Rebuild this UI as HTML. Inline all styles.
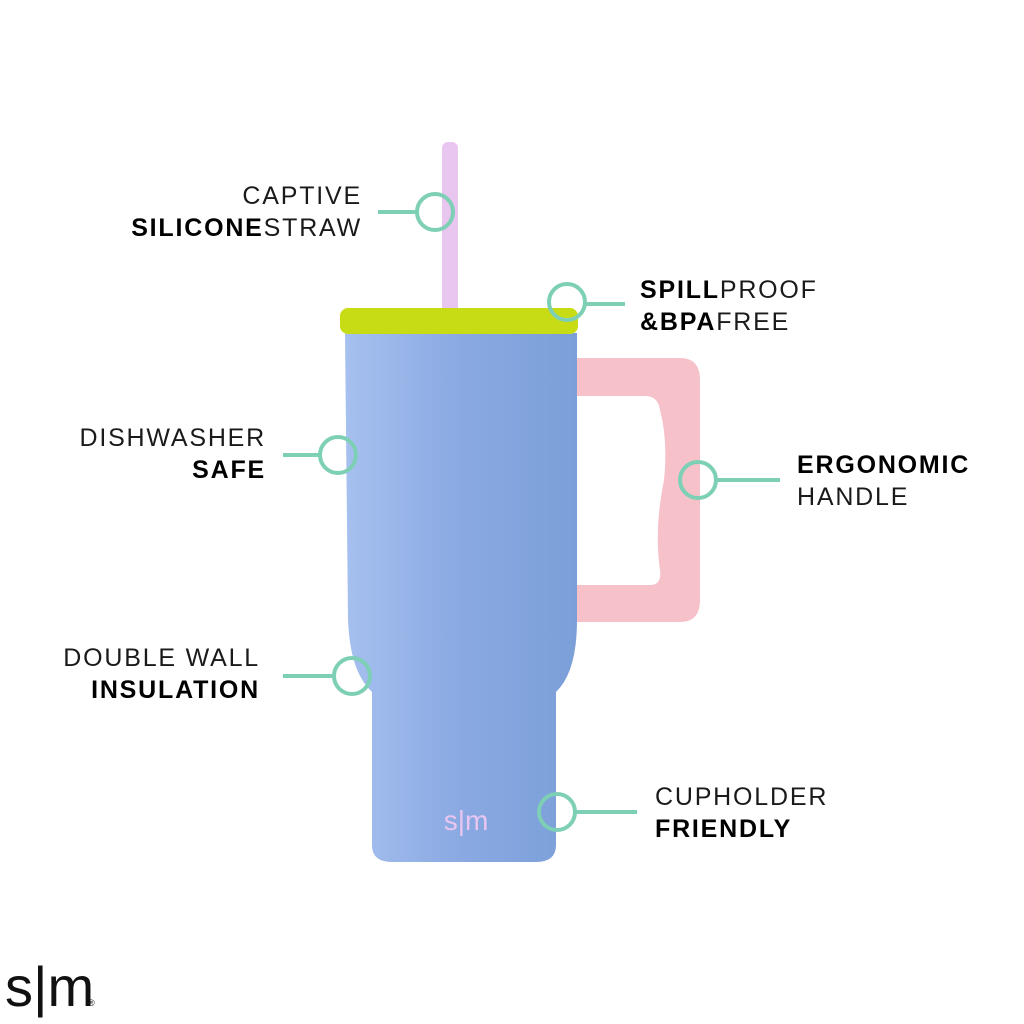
<!DOCTYPE html>
<html><head><style>
body{margin:0;background:#fff;width:1024px;height:1024px;overflow:hidden}
.t{position:absolute;font-family:"Liberation Sans",sans-serif;font-size:25px;letter-spacing:1.8px;color:#1a1a1a;line-height:32px;white-space:nowrap}
.r{text-align:right}
b{font-weight:900;color:#000}
</style></head><body>
<svg width="1024" height="1024" style="position:absolute;left:0;top:0">
<defs>
<linearGradient id="g" x1="0" x2="1"><stop offset="0" stop-color="#a6c0ef"/><stop offset="0.5" stop-color="#8aa9e2"/><stop offset="1" stop-color="#7b9fd8"/></linearGradient>
</defs>
<rect x="442" y="142" width="16" height="175" rx="6" fill="#e9c6f0"/>
<path d="M575 358 H680 Q700 358 700 380 V600 Q700 622 680 622 H575 V585 H650 Q662 585 660 570 Q654 530 664 480 Q668 440 660 410 Q658 396 645 396 H575 Z" fill="#f7c1ca"/>
<path d="M345 333 H577 V620 Q577 672 556 692 V845 Q556 862 536 862 H392 Q372 862 372 845 V692 Q350 672 348 620 Z" fill="url(#g)"/>
<rect x="340" y="308" width="238" height="26" rx="8" fill="#c8dc16"/>
<text x="466" y="830" font-family="Liberation Sans,sans-serif" font-size="28" fill="#e9c6f0" text-anchor="middle">s|m</text>
<g stroke="#7dcfb5" stroke-width="4" fill="none">
<line x1="378" y1="212" x2="417" y2="212"/><circle cx="435" cy="212" r="18"/>
<line x1="585" y1="304" x2="625" y2="304"/><circle cx="567" cy="302" r="18"/>
<line x1="283" y1="455" x2="320" y2="455"/><circle cx="338" cy="455" r="18"/>
<line x1="716" y1="480" x2="780" y2="480"/><circle cx="698" cy="480" r="18"/>
<line x1="283" y1="676" x2="334" y2="676"/><circle cx="352" cy="676" r="18"/>
<line x1="575" y1="812" x2="637" y2="812"/><circle cx="557" cy="812" r="18"/>
</g>
<text x="5" y="1006" font-family="Liberation Sans,sans-serif" font-size="56" fill="#111">s|m</text>
<text x="88" y="1006" font-family="Liberation Sans,sans-serif" font-size="9" fill="#111">®</text>
</svg>
<div class="t r" style="right:662px;top:180px">CAPTIVE<br><b>SILICONE</b>STRAW</div>
<div class="t" style="left:640px;top:274px"><b>SPILL</b>PROOF<br><b>&amp;BPA</b>FREE</div>
<div class="t r" style="right:758px;top:422px">DISHWASHER<br><b>SAFE</b></div>
<div class="t" style="left:797px;top:449px"><b>ERGONOMIC</b><br>HANDLE</div>
<div class="t r" style="right:764px;top:642px">DOUBLE WALL<br><b>INSULATION</b></div>
<div class="t" style="left:655px;top:781px">CUPHOLDER<br><b>FRIENDLY</b></div>
</body></html>
